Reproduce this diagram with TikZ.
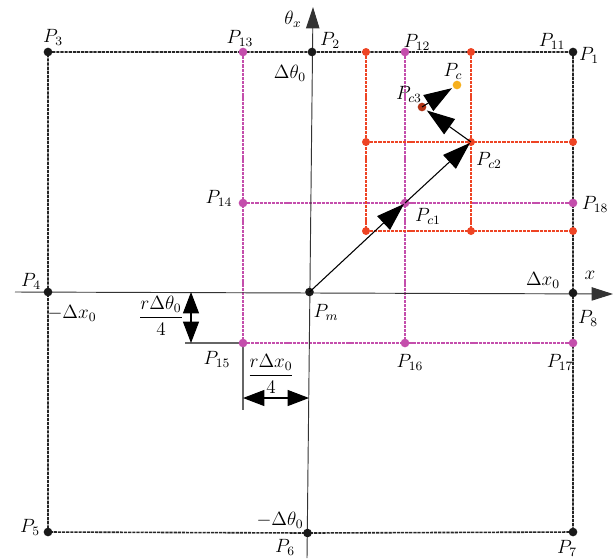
\documentclass[tikz,border=0pt]{standalone}
\usepackage{amsmath,amssymb}
\usepackage{xcolor}
\usepackage{tikz}
\usetikzlibrary{arrows.meta,calc,positioning}
\definecolor{magline}{RGB}{196,78,172}
\definecolor{redline}{RGB}{238,68,36}
\definecolor{pcthree}{RGB}{178,52,22}
\definecolor{pcorange}{RGB}{246,176,30}

\begin{document}
\begin{tikzpicture}[x=0.75pt,y=-0.75pt,font=\large,
  bdash/.style={black!85,line width=1.2pt,dash pattern=on 2.4pt off 0.7pt},
  mdash/.style={magline,line width=1.1pt,dash pattern=on 2.4pt off 0.7pt},
  rdash/.style={redline,line width=1.1pt,dash pattern=on 2.4pt off 0.7pt},
  axisline/.style={black!80,line width=0.7pt,-{Triangle[length=16pt,width=10pt]}},
  vecarrow/.style={line width=0.8pt,shorten >=1pt,-{Triangle[length=21pt,width=14pt]}},
  dimarrow/.style={line width=0.8pt,{Triangle[length=16pt,width=12pt]}-{Triangle[length=16pt,width=12pt]}},
  extline/.style={black!60,line width=0.9pt},
  bdot/.style={circle,fill=black!90,inner sep=0pt,minimum size=6.5pt},
  mdot/.style={circle,fill=magline,inner sep=0pt,minimum size=6.5pt},
  rdot/.style={circle,fill=redline,inner sep=0pt,minimum size=6pt},
  lab/.style={inner sep=0pt,scale=1.2}]
\useasboundingbox (0,0) rectangle (616,558);
\coordinate (P3) at (48,52);
\coordinate (P2) at (312,52);
\coordinate (P1) at (573,52);
\coordinate (P8) at (573,293);
\coordinate (P7) at (573,532);
\coordinate (P6) at (307.5,533);
\coordinate (P5) at (48,532);
\coordinate (P4) at (48,292);
\coordinate (Pm) at (309.5,292);
\coordinate (P13) at (243,52);
\coordinate (P12) at (405,52);
\coordinate (P14) at (243,203);
\coordinate (Pc1) at (405,203);
\coordinate (P18) at (573,203);
\coordinate (P15) at (243,343);
\coordinate (P16) at (405,343);
\coordinate (P17) at (573,343);
\coordinate (Pc2) at (471,142);
\coordinate (Pc3) at (422,107);
\coordinate (Pc) at (457,85);
\coordinate (xs) at (15,292);
\coordinate (xe) at (613,294);
\coordinate (ts) at (307,558);
\coordinate (te) at (313,7);
\draw[bdash] (P3) -- (P2) -- (P1) -- (P8) -- (P7) -- (P6) -- (P5) -- (P4) -- cycle;
\foreach \a/\b in {P13/P15,P12/P16,P14/P18,P15/P17} \draw[mdash] (\a) -- (\b);
\foreach \x in {366,471} \draw[rdash] (\x,52) -- (\x,231);
\foreach \y in {142,231} \draw[rdash] (366,\y) -- (573,\y);
\draw[axisline] (xs) -- (xe);
\draw[axisline] (ts) -- (te);
\draw[extline] (185,343) -- (P15);
\draw[extline] (P15) -- (243,410);
\coordinate (dv1) at (191,292);
\coordinate (dv2) at (191,343);
\coordinate (dh1) at (243,398);
\coordinate (dh2) at (309,398);
\draw[dimarrow] (dv1) -- (dv2);
\draw[dimarrow] (dh1) -- (dh2);
\foreach \p in {P3,P2,P1,P8,P7,P6,P5,P4,Pm} \node[bdot] (d\p) at (\p) {};
\foreach \p in {P13,P12,P14,Pc1,P18,P15,P16,P17} \node[mdot] (d\p) at (\p) {};
\foreach \x in {366,471} \node[rdot] (r\x) at (\x,52) {};
\foreach \x in {366,471,573} {
  \node[rdot] (ra\x) at (\x,142) {};
  \node[rdot] (rb\x) at (\x,231) {};
}
\node[circle,fill=pcthree,inner sep=0pt,minimum size=6.5pt] (dPc3) at (Pc3) {};
\node[circle,fill=pcorange,inner sep=0pt,minimum size=6.5pt] (dPc) at (Pc) {};
\draw[vecarrow] (Pm) -- (Pc1);
\draw[vecarrow] (Pc1) -- (Pc2);
\draw[vecarrow] (Pc2) -- (dPc3);
\draw[vecarrow] (Pc3) -- (dPc);
\node[lab] (tTheta) at (293,19) {$\theta_x$};
\node[lab] (tP2) at (330,40) {$P_2$};
\node[lab] (tDth) at (290,73) {$\Delta\theta_0$};
\node[lab] (tP3) at (53,37) {$P_3$};
\node[lab] (tP13) at (240,38) {$P_{13}$};
\node[lab] (tP12) at (417,42) {$P_{12}$};
\node[lab] (tP11) at (552,41) {$P_{11}$};
\node[lab] (tP1) at (589,55) {$P_1$};
\node[lab] (tPc) at (453,71) {$P_c$};
\node[lab] (tPc3) at (409,94) {$P_{c3}$};
\node[lab] (tPc2) at (489,160) {$P_{c2}$};
\node[lab] (tP14) at (219,198) {$P_{14}$};
\node[lab] (tPc1) at (428,216) {$P_{c1}$};
\node[lab] (tP18) at (595,204) {$P_{18}$};
\node[lab] (tX) at (590,275) {$x$};
\node[lab] (tDx) at (543,280) {$\Delta x_0$};
\node[lab] (tPm) at (326,312) {$P_m$};
\node[lab] (tP8) at (588,318) {$P_8$};
\node[lab] (tP4) at (31,281) {$P_4$};
\node[lab] (tMdx) at (72,313) {$-\Delta x_0$};
\node[lab] (tFrTh) at (161,316) {$\dfrac{r\Delta\theta_0}{4}$};
\node[lab] (tP15) at (217,359) {$P_{15}$};
\node[lab] (tFrX) at (271,374) {$\dfrac{r\Delta x_0}{4}$};
\node[lab] (tP16) at (410,362) {$P_{16}$};
\node[lab] (tP17) at (560,362) {$P_{17}$};
\node[lab] (tP5) at (30,527) {$P_5$};
\node[lab] (tMdth) at (280,520) {$-\Delta\theta_0$};
\node[lab] (tP6) at (285,547) {$P_6$};
\node[lab] (tP7) at (567,548) {$P_7$};
\end{tikzpicture}
\end{document}
